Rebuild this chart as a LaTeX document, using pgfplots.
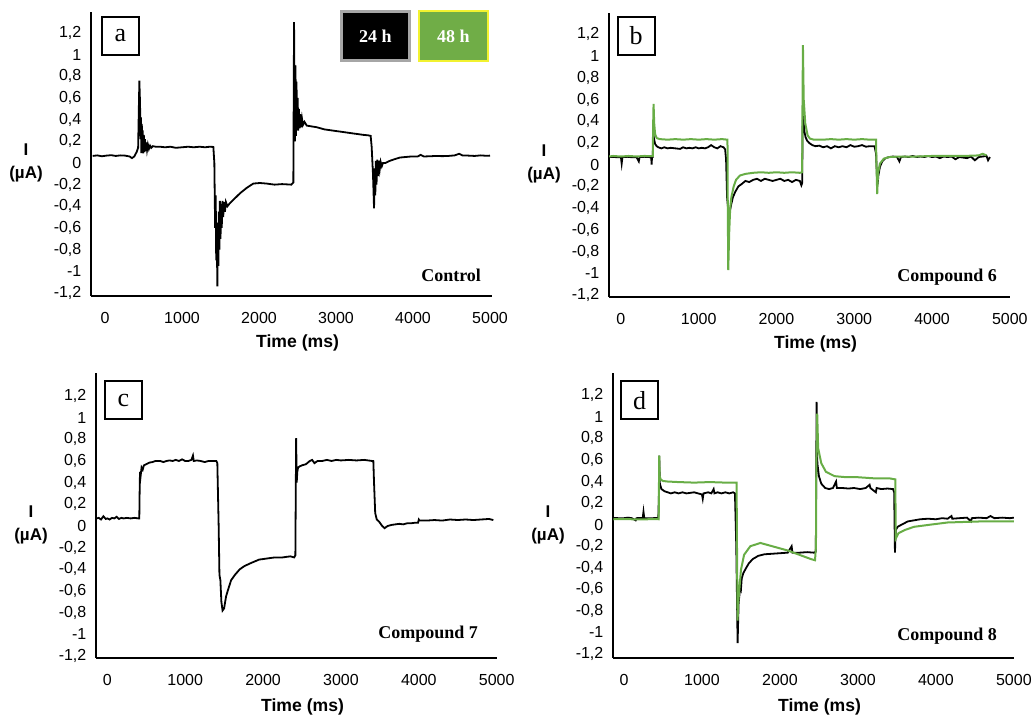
\documentclass[border=0pt]{standalone}
\usepackage{fontspec}
\setmainfont{Liberation Serif}
\setsansfont{Liberation Sans}
\usepackage{pgfplots}
\pgfplotsset{compat=1.18}

\definecolor{trace48}{HTML}{68AD46}
\definecolor{box48}{HTML}{70AD47}
\definecolor{boxedge}{HTML}{F2F230}

\pgfplotsset{
  panel/.style={
    scale only axis, width=200.5pt, height=142pt,
    axis x line=bottom, axis y line=left,
    axis line style={line width=1pt, -},
    major tick length=0pt,
    xtick={0,1000,2000,3000,4000,5000},
    ytick={-1.2,-1,-0.8,-0.6,-0.4,-0.2,0,0.2,0.4,0.6,0.8,1,1.2},
    scaled x ticks=false,
    /pgf/number format/use comma,
    /pgf/number format/1000 sep={},
    /pgf/number format/assume math mode=true,
    tick label style={font=\sffamily\fontsize{8}{9}\selectfont},
    xticklabel style={yshift=-4.5pt},
    yticklabel style={xshift=-1.3pt},
    xlabel={Time (ms)},
    ylabel={I\\(µA)},
    every axis x label/.style={at={(rel axis cs:0.515,0)}, yshift=-23.5pt, anchor=center,
      font=\sffamily\bfseries\fontsize{8.8}{10}\selectfont},
    every axis y label/.style={at={(rel axis cs:0,0.468)}, xshift=-32.5pt, anchor=center,
      align=center, font=\sffamily\bfseries\fontsize{8.5}{11.5}\selectfont},
    clip=false,
  },
  h24/.style={black, line width=0.9pt},
  h48/.style={trace48, line width=1pt},
}

\tikzset{
  letterbox/.style={draw, line width=1pt, minimum width=18.5pt, minimum height=19pt,
    inner sep=0pt, font=\fontsize{13}{13}\selectfont},
  cmpd/.style={anchor=east, font=\bfseries\fontsize{9}{10}\selectfont},
}

\begin{document}
\begin{tikzpicture}
\path[use as bounding box] (0,0) rectangle (517.5pt,358pt);

% a: control
\begin{axis}[panel, at={(45.5pt,210pt)}, anchor=south west,
  xmin=-182, xmax=5026, ymin=-1.228, ymax=1.394]
\addplot[h24] coordinates {
(-160,0.065) (-100,0.07) (-40,0.062) (20,0.068) (80,0.072) (140,0.065) (200,0.07)
(260,0.068) (320,0.06) (350,0.045) (380,0.06) (410,0.10) (430,0.14)
(446,0.76) (455,0.55) (460,0.22) (466,0.42) (472,0.09) (478,0.36) (484,0.10)
(490,0.30) (497,0.09) (504,0.26) (511,0.10) (519,0.22) (527,0.11) (536,0.19)
(546,0.12) (557,0.17) (570,0.13) (585,0.16) (600,0.14) (620,0.155) (660,0.15)
(714,0.15) (780,0.145) (850,0.15) (920,0.14) (1000,0.145) (1080,0.15) (1150,0.145)
(1230,0.15) (1300,0.145) (1360,0.15) (1407,0.148)
(1420,0.0) (1430,-0.6) (1438,-0.3) (1444,-0.9) (1450,-0.55) (1459,-1.14) (1466,-0.6)
(1472,-0.95) (1478,-0.45) (1485,-0.8) (1492,-0.35) (1500,-0.7) (1508,-0.38)
(1516,-0.6) (1525,-0.35) (1535,-0.5) (1545,-0.36) (1558,-0.45) (1570,-0.36)
(1590,-0.4) (1623,-0.37) (1667,-0.34) (1710,-0.31) (1753,-0.28) (1840,-0.23)
(1926,-0.19) (2010,-0.185) (2100,-0.19) (2200,-0.2) (2300,-0.195) (2420,-0.2)
(2446,-0.18)
(2450,0.5) (2455,1.3) (2462,0.6) (2468,0.2) (2474,0.9) (2480,0.25) (2487,0.75)
(2494,0.3) (2502,0.6) (2510,0.3) (2518,0.5) (2527,0.32) (2536,0.45) (2546,0.33)
(2558,0.41) (2570,0.35) (2590,0.38) (2620,0.345) (2662,0.34) (2750,0.33)
(2850,0.31) (2950,0.30) (3050,0.29) (3150,0.28) (3250,0.27) (3350,0.26)
(3420,0.255) (3450,0.25)
(3463,0.15) (3480,-0.1) (3494,-0.42) (3502,-0.05) (3510,-0.3) (3518,0.02)
(3526,-0.2) (3535,0.03) (3545,-0.12) (3556,0.02) (3568,-0.06) (3580,0.01)
(3595,-0.03) (3610,0.0) (3640,0.0) (3700,0.02) (3760,0.035) (3830,0.05)
(3900,0.055) (3980,0.06) (4060,0.06) (4100,0.075) (4140,0.06) (4220,0.062)
(4300,0.065) (4380,0.063) (4460,0.065) (4540,0.07) (4600,0.085) (4640,0.07)
(4720,0.068) (4800,0.065) (4880,0.07) (4960,0.066) (5000,0.068)
};
\end{axis}

% b: compound 6
\begin{axis}[panel, at={(304.5pt,209.5pt)}, anchor=south west,
  xmin=-153, xmax=5002, ymin=-1.218, ymax=1.396]
\addplot[h24] coordinates {
(-150,0.07) (-100,0.072) (-50,0.068) (0,0.07) (10,0.01) (20,0.07) (80,0.072)
(150,0.068) (200,0.07) (230,0.03) (240,0.07) (300,0.072) (360,0.07) (390,0.065)
(395,0.0) (400,0.07) (410,0.07) (415,0.29) (425,0.24) (440,0.19) (460,0.17)
(480,0.16) (520,0.15) (560,0.16) (600,0.15) (640,0.155) (700,0.15) (760,0.145)
(800,0.16) (840,0.15) (880,0.155) (920,0.15) (960,0.16) (1000,0.15) (1040,0.155)
(1080,0.15) (1120,0.16) (1160,0.18) (1200,0.16) (1240,0.15) (1280,0.17)
(1320,0.16) (1340,0.14) (1352,0.05) (1365,-0.3) (1380,-0.42) (1390,-0.45)
(1400,-0.43) (1420,-0.36) (1440,-0.3) (1470,-0.25) (1510,-0.2) (1550,-0.18)
(1600,-0.15) (1650,-0.16) (1700,-0.14) (1750,-0.13) (1800,-0.15) (1850,-0.13)
(1900,-0.14) (1950,-0.15) (2000,-0.14) (2050,-0.13) (2100,-0.15) (2150,-0.14)
(2200,-0.16) (2250,-0.14) (2300,-0.15) (2320,-0.19) (2330,-0.17)
(2336,0.35) (2342,0.45) (2350,0.38) (2360,0.3) (2375,0.25) (2395,0.22) (2420,0.2)
(2460,0.18) (2500,0.17) (2550,0.175) (2600,0.16) (2650,0.17) (2700,0.15)
(2750,0.17) (2800,0.16) (2850,0.17) (2900,0.16) (2950,0.18) (3000,0.165)
(3050,0.17) (3100,0.18) (3150,0.165) (3200,0.17) (3260,0.17) (3280,0.1)
(3290,-0.08) (3300,-0.18) (3310,-0.1) (3330,-0.02) (3360,0.03) (3400,0.06)
(3450,0.07) (3500,0.075) (3550,0.07) (3580,0.03) (3600,0.07) (3650,0.075)
(3700,0.07) (3750,0.08) (3800,0.07) (3850,0.075) (3900,0.07) (3950,0.08)
(4000,0.07) (4050,0.075) (4100,0.06) (4150,0.075) (4200,0.07) (4250,0.075)
(4300,0.05) (4350,0.07) (4400,0.065) (4450,0.06) (4500,0.075) (4550,0.04)
(4600,0.07) (4650,0.075) (4700,0.08) (4720,0.04) (4744,0.07)
};
\addplot[h48] coordinates {
(-150,0.075) (-100,0.08) (0,0.075) (100,0.08) (200,0.075) (300,0.08) (400,0.078)
(410,0.08) (414,0.35) (420,0.56) (428,0.38) (440,0.28) (460,0.245) (500,0.235)
(600,0.23) (700,0.235) (800,0.23) (900,0.235) (1000,0.23) (1100,0.235) (1200,0.23)
(1300,0.235) (1370,0.23) (1374,-0.4) (1380,-0.97) (1392,-0.63) (1405,-0.4)
(1420,-0.3) (1450,-0.2) (1480,-0.14) (1530,-0.1) (1600,-0.085) (1700,-0.075)
(1800,-0.07) (1900,-0.075) (2000,-0.07) (2100,-0.075) (2200,-0.07) (2300,-0.075)
(2330,-0.07) (2334,0.5) (2340,1.1) (2350,0.6) (2370,0.38) (2400,0.27) (2430,0.24)
(2480,0.23) (2600,0.23) (2700,0.235) (2800,0.23) (2900,0.235) (3000,0.23)
(3100,0.235) (3200,0.23) (3280,0.23) (3285,0.0) (3295,-0.27) (3305,-0.08)
(3330,0.01) (3380,0.055) (3450,0.07) (3600,0.075) (3800,0.075) (4000,0.08)
(4200,0.08) (4400,0.08) (4600,0.085) (4650,0.1) (4700,0.085)
};
\end{axis}

% c: compound 7
\begin{axis}[panel, at={(48pt,29pt)}, anchor=south west, height=142.5pt,
  xmin=-145, xmax=5004, ymin=-1.218, ymax=1.412,
  every axis x label/.append style={yshift=-1pt}]
\addplot[h24] coordinates {
(-137,0.07) (-110,0.075) (-80,0.06) (-50,0.09) (-20,0.065) (0,0.07) (30,0.06)
(60,0.075) (90,0.07) (120,0.085) (150,0.065) (180,0.075) (210,0.07) (250,0.075)
(300,0.07) (350,0.075) (400,0.07) (411,0.07) (415,0.3) (420,0.5) (428,0.46)
(440,0.54) (455,0.52) (470,0.56) (500,0.57) (540,0.585) (580,0.59) (620,0.6)
(680,0.6) (720,0.59) (760,0.6) (800,0.605) (840,0.6) (880,0.61) (920,0.6)
(960,0.615) (1000,0.6) (1040,0.6) (1080,0.61) (1100,0.65) (1110,0.6) (1150,0.605)
(1200,0.6) (1250,0.59) (1300,0.6) (1340,0.6) (1400,0.6) (1413,0.58) (1430,0.0)
(1440,-0.45) (1452,-0.5) (1465,-0.7) (1480,-0.78) (1500,-0.76) (1525,-0.65)
(1550,-0.59) (1590,-0.5) (1640,-0.45) (1700,-0.4) (1760,-0.37) (1850,-0.34)
(1950,-0.31) (2050,-0.3) (2150,-0.29) (2250,-0.29) (2350,-0.28) (2400,-0.29)
(2415,-0.27) (2420,0.3) (2425,0.81) (2432,0.4) (2440,0.5) (2450,0.54) (2470,0.55)
(2500,0.56) (2550,0.57) (2600,0.6) (2630,0.61) (2660,0.58) (2700,0.6) (2760,0.6)
(2820,0.61) (2880,0.6) (2940,0.61) (3000,0.605) (3100,0.61) (3200,0.605)
(3300,0.61) (3400,0.6) (3416,0.6) (3425,0.4) (3440,0.12) (3460,0.06) (3490,0.04)
(3530,0.0) (3560,-0.02) (3600,0.0) (3650,0.01) (3700,0.015) (3750,0.02)
(3800,0.015) (3850,0.025) (3900,0.025) (3950,0.03) (3990,0.03) (4000,0.06)
(4010,0.05) (4100,0.05) (4200,0.055) (4300,0.05) (4400,0.06) (4500,0.055)
(4600,0.06) (4700,0.055) (4800,0.06) (4900,0.065) (4957,0.055)
};
\end{axis}

% d: compound 8
\begin{axis}[panel, at={(306.5pt,29pt)}, anchor=south west, height=142.5pt,
  xmin=-141, xmax=5002, ymin=-1.237, ymax=1.407,
  every axis x label/.append style={yshift=-1pt}]
\addplot[h24] coordinates {
(-137,0.06) (-100,0.062) (-50,0.058) (0,0.06) (50,0.065) (100,0.06) (150,0.04)
(160,0.06) (200,0.062) (240,0.06) (250,0.12) (260,0.06) (300,0.06) (350,0.058)
(400,0.062) (440,0.06) (449,0.3) (452,0.64) (460,0.38) (480,0.33) (520,0.31)
(560,0.3) (600,0.29) (650,0.3) (700,0.29) (750,0.3) (800,0.29) (850,0.295)
(900,0.3) (950,0.29) (1000,0.28) (1010,0.24) (1020,0.29) (1080,0.3) (1120,0.29)
(1150,0.33) (1160,0.29) (1200,0.3) (1250,0.29) (1300,0.3) (1350,0.29) (1400,0.3)
(1423,0.29) (1440,-0.2) (1457,-1.1) (1470,-0.73) (1490,-0.58) (1500,-0.6)
(1510,-0.5) (1530,-0.45) (1560,-0.41) (1600,-0.36) (1650,-0.32) (1720,-0.29)
(1800,-0.275) (1900,-0.27) (2000,-0.265) (2100,-0.26) (2150,-0.2) (2160,-0.26)
(2250,-0.26) (2350,-0.255) (2440,-0.26) (2460,-0.25) (2465,0.4) (2470,1.14)
(2480,0.57) (2500,0.45) (2530,0.38) (2580,0.34) (2630,0.33) (2680,0.34)
(2720,0.4) (2730,0.34) (2800,0.34) (2880,0.335) (2950,0.34) (3030,0.33)
(3100,0.34) (3150,0.37) (3160,0.34) (3230,0.3) (3240,0.34) (3300,0.33)
(3380,0.335) (3450,0.33) (3465,0.3) (3475,-0.26) (3485,-0.05) (3510,-0.02)
(3560,0.0) (3640,0.03) (3720,0.04) (3800,0.05) (3900,0.055) (4000,0.05)
(4080,0.06) (4150,0.055) (4200,0.08) (4210,0.055) (4300,0.06) (4400,0.065)
(4450,0.03) (4460,0.06) (4550,0.065) (4650,0.06) (4700,0.08) (4750,0.06)
(4850,0.065) (4950,0.06) (5000,0.065)
};
\addplot[h48] coordinates {
(-137,0.05) (0,0.052) (100,0.05) (200,0.048) (300,0.05) (400,0.052) (445,0.05)
(449,0.4) (452,0.64) (458,0.45) (470,0.42) (500,0.405) (560,0.4) (700,0.395)
(900,0.39) (1100,0.395) (1300,0.39) (1444,0.39) (1450,-0.3) (1457,-0.89)
(1465,-0.73) (1500,-0.42) (1540,-0.28) (1620,-0.2) (1750,-0.17) (1900,-0.2)
(2100,-0.24) (2250,-0.28) (2400,-0.32) (2450,-0.33) (2462,-0.2) (2466,0.5)
(2478,1.03) (2490,0.71) (2530,0.57) (2590,0.49) (2700,0.45) (2850,0.44)
(3000,0.44) (3200,0.43) (3400,0.43) (3480,0.42) (3485,-0.13) (3520,-0.08)
(3600,-0.05) (3720,-0.02) (3930,0.0) (4150,0.02) (4580,0.03) (5000,0.03)
};
\end{axis}

% panel letters
\node[letterbox] at (60.25pt,340pt) {a};
\node[letterbox] at (318pt,340pt) {b};
\node[letterbox] at (61.75pt,157.75pt) {c};
\node[letterbox] at (319.75pt,157.75pt) {d};

% compound names
\node[cmpd] at (244pt,220.5pt) {Control};
\node[cmpd] at (502pt,219.5pt) {Compound 6};
\node[cmpd] at (242.5pt,41pt) {Compound 7};
\node[cmpd] at (502pt,40pt) {Compound 8};

% legend
\node[fill=black, draw=gray!70, line width=1.5pt, minimum width=34pt, minimum height=24.5pt,
  inner sep=0pt, text=white, font=\bfseries\fontsize{9}{10}\selectfont] at (187.75pt,340pt) {24 h};
\node[fill=box48, draw=boxedge, line width=1pt, minimum width=34.5pt, minimum height=25pt,
  inner sep=0pt, text=white, font=\bfseries\fontsize{9}{10}\selectfont] at (226.75pt,340pt) {48 h};
\end{tikzpicture}
\end{document}
